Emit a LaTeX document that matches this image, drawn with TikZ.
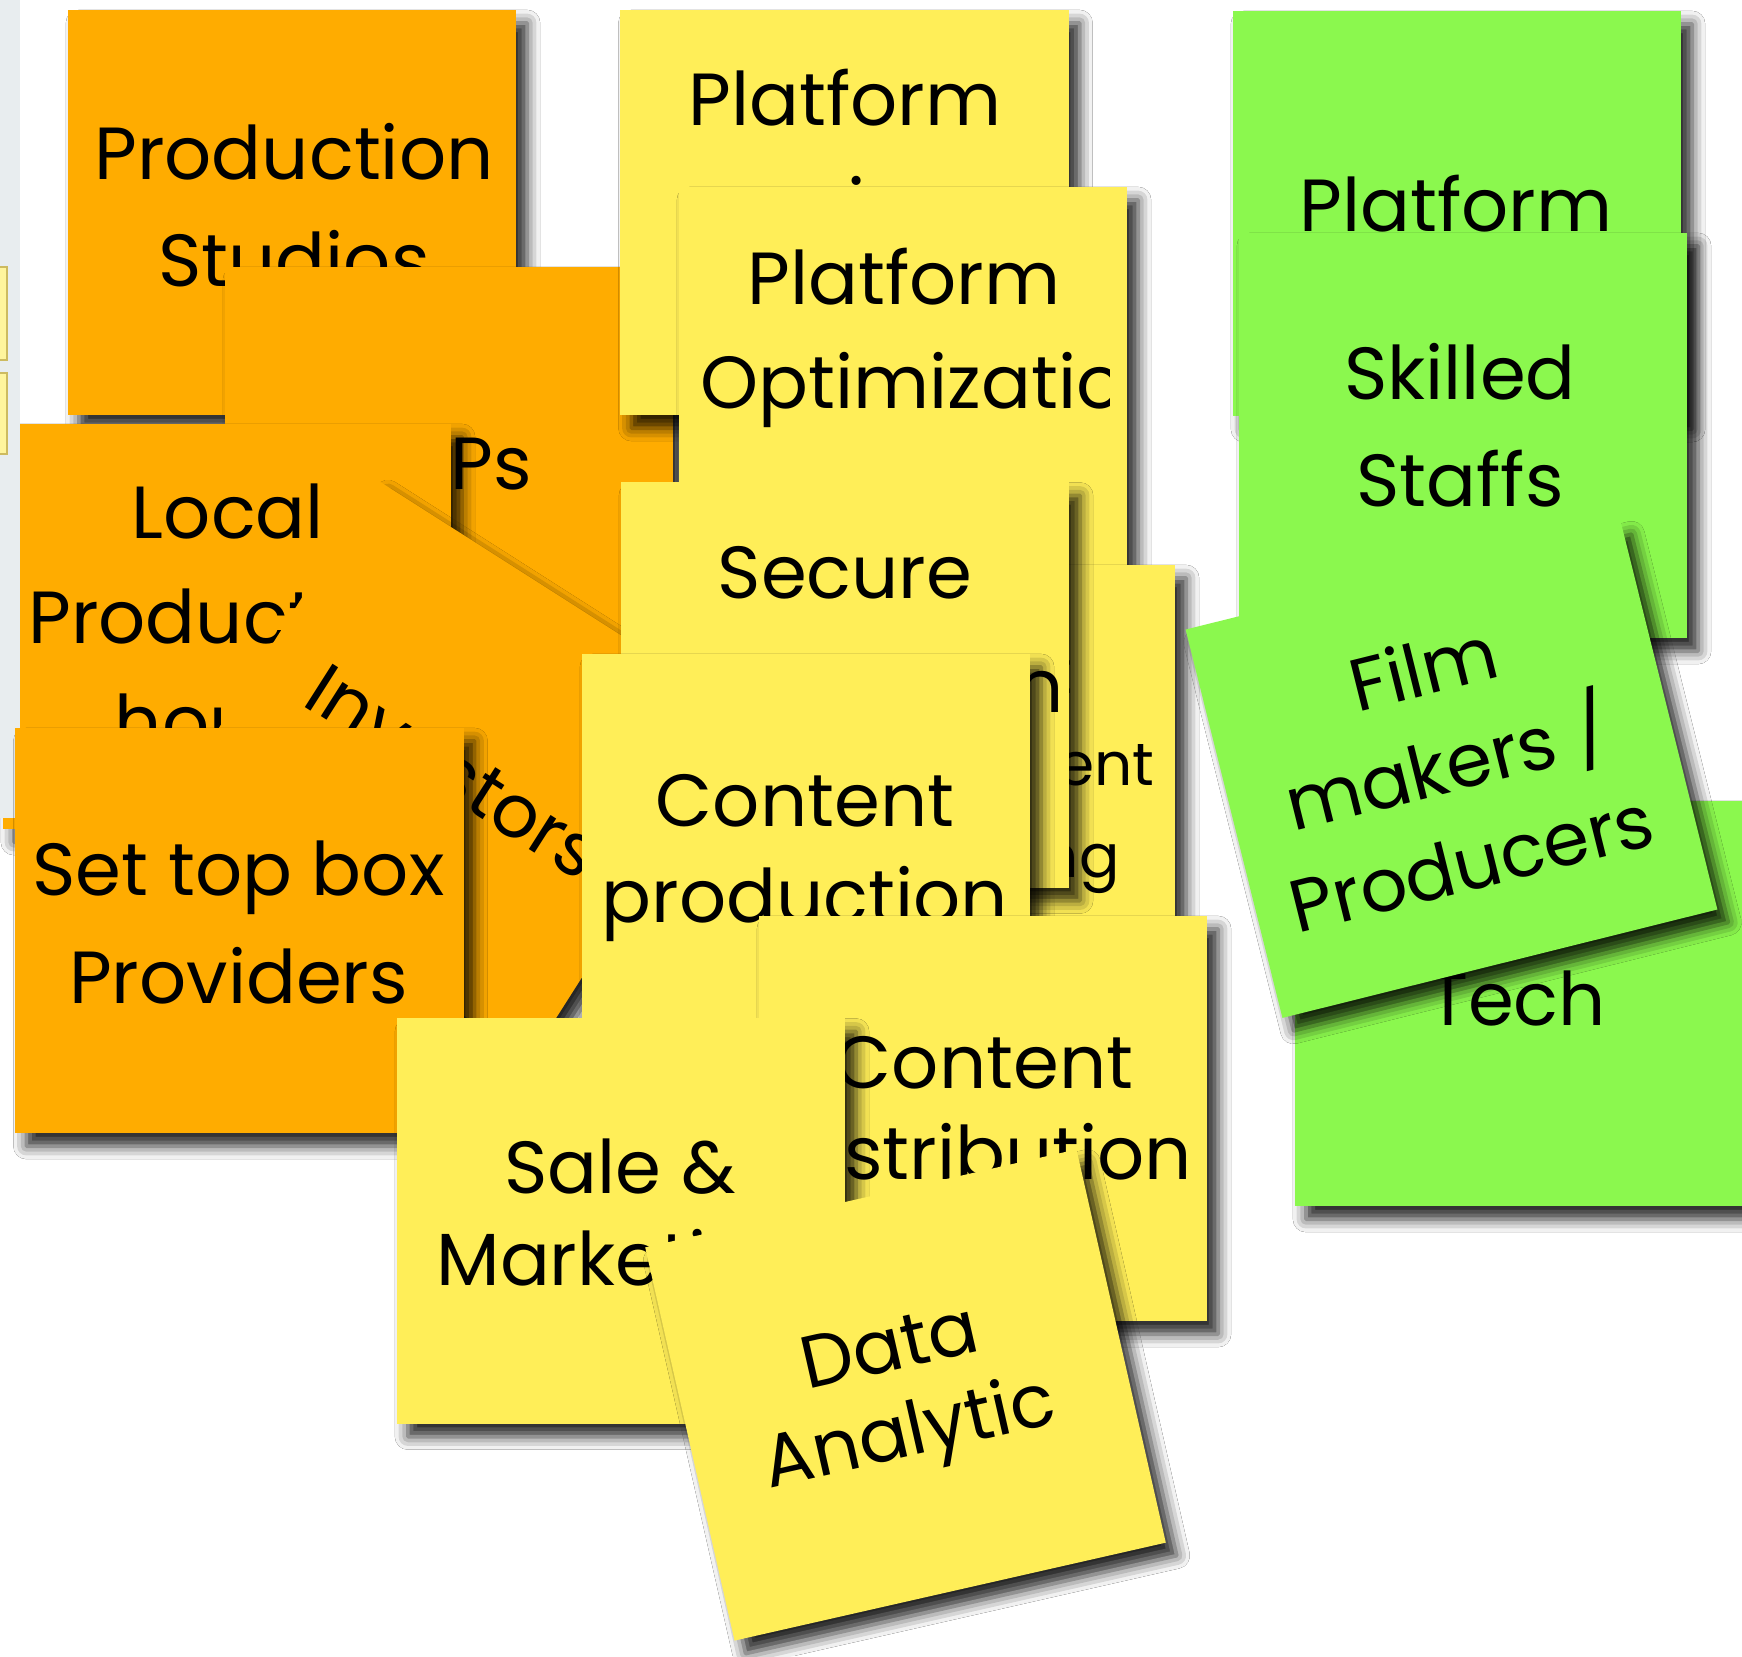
\documentclass[tikz,border=0pt]{standalone}
\usepackage{fontspec}
\setmainfont{Poppins}
\usetikzlibrary{shadows.blur}
\definecolor{noteorange}{HTML}{FFAC00}
\definecolor{noteyellow}{HTML}{FFEE58}
\definecolor{notegreen}{HTML}{8BF84E}
\definecolor{panelgray}{HTML}{E8EDEF}
\definecolor{tabyellow}{HTML}{FFF59D}
\definecolor{tabedge}{HTML}{CDBB60}
\newcommand{\notefont}{\fontsize{21}{25}\selectfont}
\newcommand{\smallnotefont}{\fontsize{17}{20}\selectfont}
\tikzset{
  note/.style={rectangle, inner sep=0pt, minimum width=4.48cm, minimum height=4.05cm,
    blur shadow={shadow xshift=0.11cm, shadow yshift=-0.13cm, shadow blur radius=0.13cm, shadow opacity=85}},
  orangenote/.style={note, fill=noteorange},
  yellownote/.style={note, fill=noteyellow},
  greennote/.style={note, fill=notegreen},
  notetext/.style={font=\notefont, text=black, inner sep=0pt, anchor=base},
  smalltext/.style={notetext, font=\smallnotefont},
}
\newcommand{\notelines}[6][notetext]{% #2 name, #3 x, #4 first baseline, #5 line step, #6 lines
  \foreach \noteline [count=\k from 0] in {#6} {
    \node[#1] (#2\k) at (#3, #4 + \k*#5) {\noteline};
  }
}

\begin{document}
\begin{tikzpicture}[x=0.01cm, y=-0.01cm]
  \useasboundingbox (0,0) rectangle (1742,1656);
  \fill[white] (0,0) rectangle (1742,1656);
  \clip (0,0) rectangle (1742,1656);

  % orange column
  \node[orangenote] (studios) at (292,212.5) {};
  \notelines{studiostxt}{294}{179}{107}{Production,Studios}

  \node[orangenote] (isps) at (449,469.5) {};
  \node[notetext, anchor=base east] (isptxt) at (533,489) {ISPs};

  \node[orangenote] (localprod) at (227,626.5) {};
  \notelines{localtxt}{228}{538}{105}{Local,Production,house}

  \begin{scope}[shift={(377,480)}, rotate=-32.5, transform shape]
    \node[orangenote, minimum width=4.4cm] (investors) at (220,202.5) {};
    \notelines{investtxt}{222}{230}{100}{Investors}
  \end{scope}

  % side panel
  \fill[panelgray] (0,0) rectangle (20,818);
  \filldraw[fill=tabyellow, draw=tabedge, line width=0.4pt] (-2,267) rectangle (7,360);
  \filldraw[fill=tabyellow, draw=tabedge, line width=0.4pt] (-2,373) rectangle (7,454);

  \node[orangenote] (settop) at (239.5,930.5) {};
  \notelines{settoptxt}{238.5}{895}{108}{Set top box,Providers}

  % yellow column
  \node[yellownote] (platsvc) at (844.5,212.5) {};
  \notelines{platsvctxt}{845}{125}{107}{Platform,services}

  \node[yellownote] (platopt) at (903,389.5) {};
  \node[notetext] (platopttxt0) at (904,304) {Platform};
  \begin{scope}
    \clip (700,330) rectangle (1109,440);
    \node[notetext, anchor=base west] (platopttxt1) at (700,408) {Optimization};
  \end{scope}

  \node[yellownote] (contentmgmt) at (951,767.5) {};
  \notelines[smalltext]{mgmttxt}{951}{693}{92}{Content,Management,\& Licensing}

  \node[yellownote] (secure) at (845,685) {};
  \notelines{securetxt}{845}{598}{114}{Secure,Transaction}

  \node[yellownote] (contentprod) at (806,856.5) {};
  \notelines{prodtxt}{805}{826}{96}{Content,production}

  \node[yellownote] (contentdist) at (983,1118.5) {};
  \notelines{disttxt}{984}{1088}{91}{Content,distribution}

  \node[yellownote] (salemkt) at (621,1221) {};
  \notelines{saletxt}{620}{1193}{92}{Sale \&,Marketing}

  \begin{scope}[shift={(905.5,1395)}, rotate=12.8, transform shape]
    \node[yellownote, minimum width=4.42cm, minimum height=4.03cm] (analytic) at (0,0) {};
    \notelines{analytictxt}{-5}{-27}{88}{Data,Analytic}
  \end{scope}

  % green column
  \node[greennote] (platgreen) at (1457,213.5) {};
  \notelines{platgreentxt}{1456}{231}{107}{Platform}

  \node[greennote] (skilled) at (1463,435.5) {};
  \notelines{skilledtxt}{1460}{399}{107}{Skilled,Staffs}

  \node[greennote] (tech) at (1519,1003.5) {};
  \notelines{techtxt}{1517}{1025}{107}{Tech}

  \begin{scope}[shift={(1451.5,769.5)}, rotate=14, transform shape]
    \node[greennote, minimum height=4.0cm] (filmmakers) at (0,0) {};
    \notelines{filmtxt}{-3}{-78}{100}{Film,makers /,Producers}
  \end{scope}
\end{tikzpicture}
\end{document}
